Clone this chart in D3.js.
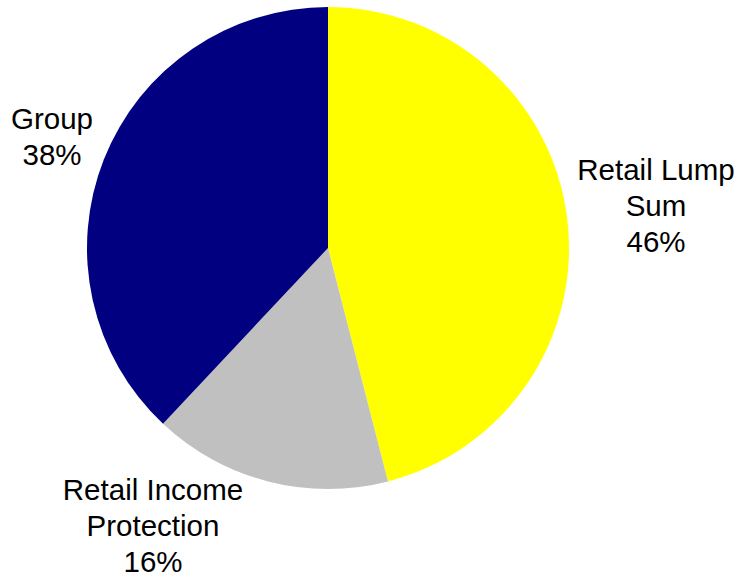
<!DOCTYPE html>
<html>
<head>
<meta charset="utf-8">
<script src="https://cdn.jsdelivr.net/npm/d3@7"></script>
<style>
  html, body { margin: 0; padding: 0; background: #fff; }
  svg { display: block; }
</style>
</head>
<body>
<script>
// Share of business by product line
const categories = ["Retail Lump Sum", "Retail Income Protection", "Group"];
const shares = [46, 16, 38];
const colors = ["#ffff00", "#c0c0c0", "#000080"];
const labelLines = [["Retail Lump", "Sum"], ["Retail Income", "Protection"], ["Group"]];
// label anchor (centre x, first baseline y) for each slice
const labelPos = [[656, 180], [153, 500], [52, 129]];

const width = 737, height = 575;
const cx = 328, cy = 248, radius = 241;
const lineH = 36;

const svg = d3.select("body").append("svg")
  .attr("width", width).attr("height", height);

const pie = d3.pie().sort(null).value(d => d)(shares);
const arc = d3.arc().innerRadius(0).outerRadius(radius);

svg.append("g").attr("transform", `translate(${cx},${cy})`)
  .selectAll("path").data(pie).join("path")
  .attr("d", arc)
  .attr("fill", (d, i) => colors[i]);

const labels = svg.append("g")
  .attr("font-family", "Liberation Sans, Arial, sans-serif")
  .attr("font-size", 29.5)
  .attr("fill", "#000")
  .attr("text-anchor", "middle");

categories.forEach((c, i) => {
  const lines = labelLines[i].concat([shares[i] + "%"]);
  const t = labels.append("text");
  lines.forEach((l, j) => {
    t.append("tspan")
      .attr("x", labelPos[i][0])
      .attr("y", labelPos[i][1] + j * lineH)
      .text(l);
  });
});
</script>
</body>
</html>
